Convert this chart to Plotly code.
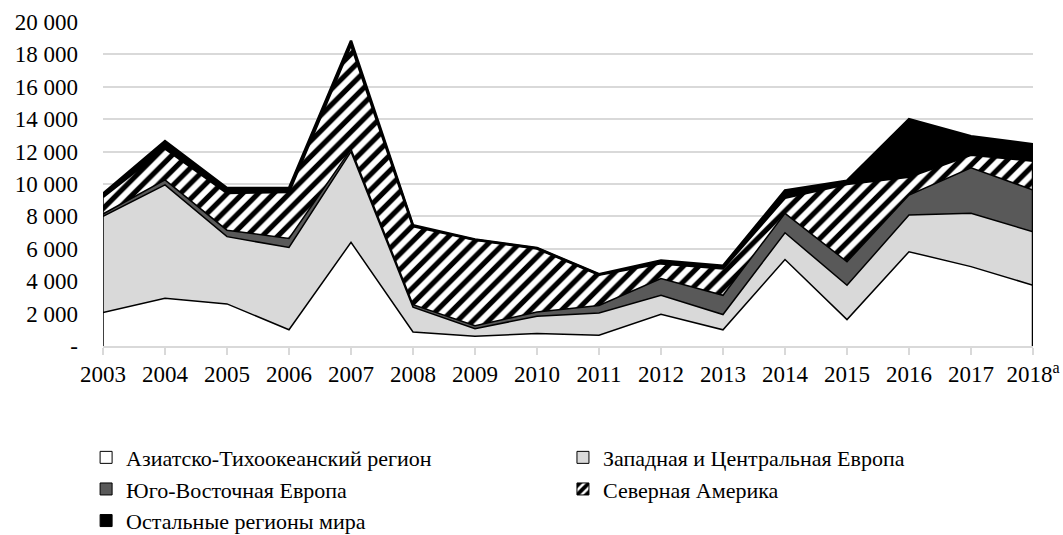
import plotly.graph_objects as go

years = list(range(2003, 2019))
year_labels = [str(y) for y in years[:-1]] + ["2018<sup>a</sup>"]

asia_pacific = [2060, 2950, 2600, 1000, 6400, 870, 600, 770, 660, 1960, 1000, 5340, 1630, 5820, 4900, 3750]
west_central_europe = [5940, 7000, 4150, 5080, 5600, 1530, 470, 1070, 1380, 1170, 940, 1650, 2120, 2260, 3290, 3300]
southeast_europe = [150, 300, 400, 560, 150, 150, 180, 260, 460, 1040, 1190, 1200, 1450, 1240, 2810, 2580]
north_america = [1050, 1950, 2300, 2860, 6450, 4850, 5300, 3920, 1900, 930, 1650, 960, 4800, 1130, 800, 1810]
rest_of_world = [200, 450, 300, 250, 250, 50, 30, 30, 30, 180, 170, 450, 200, 3550, 1150, 1010]

names = [
    "Азиатско-Тихоокеанский регион",
    "Западная и Центральная Европа",
    "Юго-Восточная Европа",
    "Северная Америка",
    "Остальные регионы мира",
]

y_ticks = list(range(0, 20001, 2000))
y_tick_text = ["-"] + [f"{v // 1000} 000" for v in y_ticks[1:]]

FONT = "Liberation Serif"

fig = go.Figure()

series = [asia_pacific, west_central_europe, southeast_europe, north_america, rest_of_world]
fills = ["#ffffff", "#d9d9d9", "#595959", "#ffffff", "#000000"]
line_w = [1.5, 1.5, 1.5, 2.5, 2.5]

for i, (vals, nm, fc) in enumerate(zip(series, names, fills)):
    kw = dict(
        x=years, y=vals, name=nm, mode="lines", stackgroup="one",
        line=dict(color="black", width=line_w[i]), fillcolor=fc,
        showlegend=False, hoverinfo="skip",
    )
    if i == 3:
        kw["fillpattern"] = dict(shape="/", fgcolor="#000000", fgopacity=1, bgcolor="white",
                                 size=11, solidity=0.47, fillmode="replace")
    fig.add_trace(go.Scatter(**kw))

totals = [sum(v) for v in zip(*series)]
# outline edges at both ends of the stacked areas
fig.add_trace(go.Scatter(x=[years[0], years[0]], y=[0, totals[0]], mode="lines",
                         line=dict(color="black", width=1.5), showlegend=False, hoverinfo="skip"))
fig.add_trace(go.Scatter(x=[years[-1], years[-1]], y=[0, totals[-1]], mode="lines",
                         line=dict(color="black", width=2.5), showlegend=False, hoverinfo="skip"))

# legend entries (square swatches): left column in legend, right column in legend2
for i, (nm, fc) in enumerate(zip(names, fills)):
    marker = dict(color=fc, line=dict(color="black", width=1))
    if i == 3:
        marker["pattern"] = dict(shape="/", fgcolor="black", bgcolor="white", size=8,
                                 solidity=0.6, fillmode="replace")
    fig.add_trace(go.Bar(x=[None], y=[None], name=nm, marker=marker, showlegend=True,
                         legend="legend" if i % 2 == 0 else "legend2"))

legend_common = dict(
    orientation="h", xref="container", yref="container", xanchor="left",
    entrywidth=470, entrywidthmode="pixels",
    y=0.184, yanchor="top", font=dict(family=FONT, size=22, color="black"),
    traceorder="normal", itemclick=False, itemdoubleclick=False,
)

fig.update_layout(
    width=1063, height=535,
    margin=dict(l=103, r=30, t=22, b=189),
    plot_bgcolor="white", paper_bgcolor="white",
    font=dict(family=FONT, size=22, color="black"),
    showlegend=True,
    legend=dict(x=0.081, **legend_common),
    legend2=dict(x=0.5296, **legend_common),
)
fig.update_xaxes(
    range=[years[0], years[-1]], tickvals=years, ticktext=year_labels,
    showgrid=False, showline=True, linecolor="#d9d9d9", linewidth=1.5,
    ticks="outside", ticklen=7, tickcolor="#d9d9d9", tickwidth=1.5,
    tickfont=dict(family=FONT, size=23), zeroline=False, automargin=False,
)
fig.update_yaxes(
    range=[0, 20000], tickvals=y_ticks, ticktext=y_tick_text,
    showgrid=True, gridcolor="#d9d9d9", gridwidth=1.5, zeroline=False,
    showline=False, ticks="", ticklabelstandoff=24,
    tickfont=dict(family=FONT, size=23), automargin=False,
)

fig.write_html(
    "out.html",
    config={"displayModeBar": False},
    post_script="document.body.style.margin='0';document.body.style.padding='0';",
)
